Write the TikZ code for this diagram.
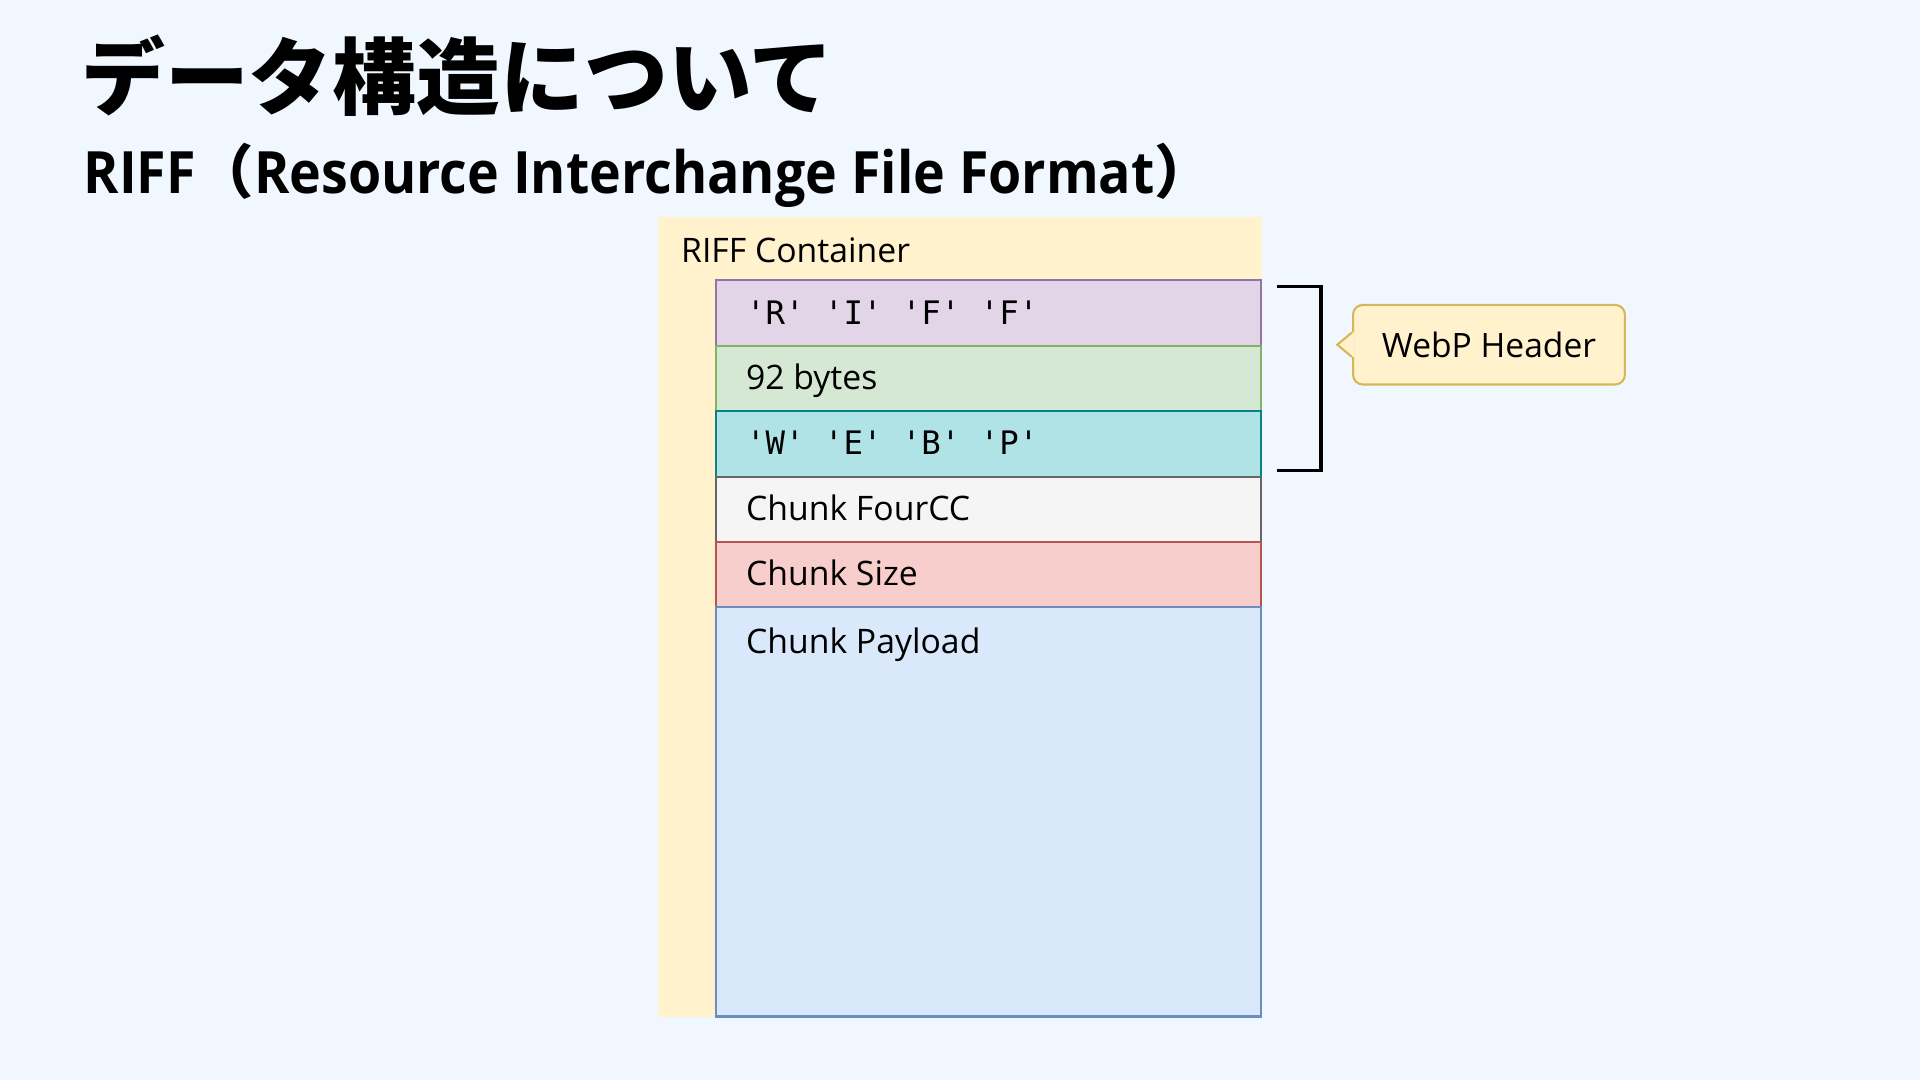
\documentclass[tikz,border=0pt]{standalone}
\usepackage{fontspec}
\setmainfont{Open Sans}
\setmonofont{DejaVu Sans Mono}
\newfontfamily\cjk{Noto Sans CJK JP}
\newfontfamily\subfont[FakeStretch=0.92]{Open Sans}
\usetikzlibrary{calc,positioning}
\definecolor{bgc}{HTML}{F0F7FF}
\definecolor{contf}{HTML}{FFF2CC}
\definecolor{purpf}{HTML}{E1D5E7}\definecolor{purpd}{HTML}{9673A6}
\definecolor{grnf}{HTML}{D5E8D4}\definecolor{grnd}{HTML}{82B366}
\definecolor{cyaf}{HTML}{B0E3E6}\definecolor{cyad}{HTML}{0E8088}
\definecolor{gryf}{HTML}{F5F5F5}\definecolor{gryd}{HTML}{666666}
\definecolor{redf}{HTML}{F8CECC}\definecolor{redd}{HTML}{B85450}
\definecolor{bluf}{HTML}{DAE8FC}\definecolor{blud}{HTML}{6C8EBF}
\definecolor{callf}{HTML}{FFF2CC}\definecolor{calld}{HTML}{D6B656}
\newcommand{\fcc}[1]{\textquotesingle#1\textquotesingle}
\tikzset{
	chunkbox/.style 2 args={draw=#1,fill=#2,line width=1.2pt,minimum width=11.125cm,minimum height=1.335cm,inner sep=0pt,outer sep=0pt},
	lbl/.style={anchor=base west,inner sep=0pt,font=\fontsize{19.6}{24}\selectfont},
	monolbl/.style={lbl,font=\ttfamily\fontsize{18.8}{22}\selectfont},
	callbox/.style={draw=calld,fill=callf,line width=1.2pt,rounded corners=0.2cm,minimum width=5.55cm,minimum height=1.625cm,font=\fontsize{19.5}{24}\selectfont},
	brk/.style={line width=2.2pt,line join=miter},
}
\begin{document}
\begin{tikzpicture}[x=0.025cm,y=-0.025cm,node distance=0pt]
	\fill[bgc] (0,0) rectangle (1568,882);
	\useasboundingbox (0,0) rectangle (1568,882);
	\node[anchor=base west,inner sep=0pt,font=\cjk\bfseries\fontsize{48.7}{56}\selectfont] (ttl) at (66,89) {データ構造について};
	\node[anchor=base west,inner sep=0pt,font=\subfont\bfseries\fontsize{33.9}{40}\selectfont] (sub) at (68,158) {RIFF{\cjk（}Resource Interchange File Format{\cjk）}};
	\node[fill=contf,minimum width=12.325cm,minimum height=16.325cm,anchor=north west,inner sep=0pt] (cont) at (537,177) {};
	\node[lbl] (tcont) at ($(cont.north west)+(19,37)$) {RIFF Container};
	\node[chunkbox={purpd}{purpf},anchor=north west] (riff) at (585,229) {};
	\node[chunkbox={grnd}{grnf},below=of riff] (len) {};
	\node[chunkbox={cyad}{cyaf},below=of len] (wbp) {};
	\node[chunkbox={gryd}{gryf},below=of wbp] (four) {};
	\node[chunkbox={redd}{redf},below=of four] (csize) {};
	\node[chunkbox={blud}{bluf},minimum height=8.35cm,below=of csize] (load) {};
	\node[monolbl] (triff) at ($(riff.west)+(24,9)$) {\fcc{R} \fcc{I} \fcc{F} \fcc{F}};
	\node[lbl] (tlen) at ($(len.west)+(24,9)$) {92 bytes};
	\node[monolbl] (twbp) at ($(wbp.west)+(24,9)$) {\fcc{W} \fcc{E} \fcc{B} \fcc{P}};
	\node[lbl] (tfour) at ($(four.west)+(24,9)$) {Chunk FourCC};
	\node[lbl] (tcsize) at ($(csize.west)+(24,9)$) {Chunk Size};
	\node[lbl] (tload) at ($(load.north west)+(24,38)$) {Chunk Payload};
	\draw[brk] ($(riff.north east)+(13,5)$) -| ($(wbp.south east)+(49,-5)$) -- ($(wbp.south east)+(13,-5)$);
	\node[callbox] (hdr) at (1216,281.5) {WebP Header};
	\fill[callf] ($(hdr.west)+(2,-10)$) -- ($(hdr.west)+(0,-10)$) -- ($(hdr.west)+(-12,0)$) -- ($(hdr.west)+(0,10)$) -- ($(hdr.west)+(2,10)$) -- cycle;
	\draw[calld,line width=1.2pt,line join=miter] ($(hdr.west)+(0,-10)$) -- ($(hdr.west)+(-12,0)$) -- ($(hdr.west)+(0,10)$);
\end{tikzpicture}
\end{document}
